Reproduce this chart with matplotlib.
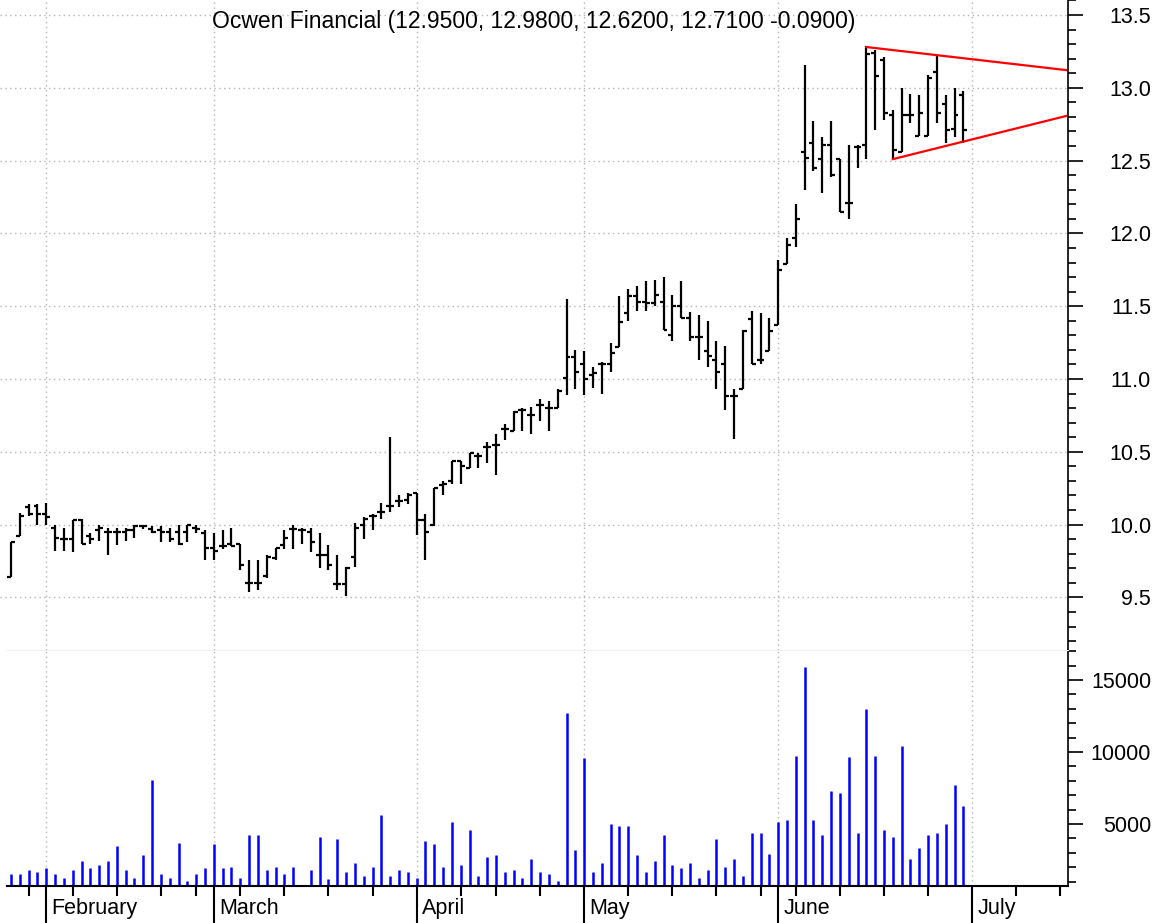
import matplotlib
matplotlib.use('Agg')
import matplotlib.pyplot as plt
import matplotlib.transforms as mtransforms
import numpy as np

plt.rcParams['font.family'] = ['Liberation Sans', 'DejaVu Sans']

title = 'Ocwen Financial (12.9500, 12.9800, 12.6200, 12.7100 -0.0900)'

# daily bars, late Jan to end of June
opens = [9.64, 9.92, 10.12, 10.13, 10.07, 9.98, 9.90, 9.90, 10.03, 9.92,
         9.96, 9.95, 9.95, 9.95, 9.96, 9.99, 9.97, 9.96, 9.95, 9.95,
         9.95, 9.98, 9.94, 9.84, 9.85, 9.87, 9.87, 9.60, 9.60, 9.65,
         9.77, 9.86, 9.97, 9.96, 9.95, 9.79, 9.79, 9.59, 9.59, 9.78,
         10.00, 10.06, 10.09, 10.13, 10.16, 10.17, 10.22, 10.03, 10.00, 10.27,
         10.30, 10.44, 10.39, 10.47, 10.53, 10.55, 10.66, 10.64, 10.79, 10.75,
         10.82, 10.80, 10.80, 11.01, 11.15, 11.10, 11.03, 11.10, 11.10, 11.22,
         11.45, 11.57, 11.53, 11.52, 11.53, 11.30, 11.50, 11.42, 11.29, 11.19,
         11.13, 11.10, 10.88, 10.93, 11.41, 11.13, 11.19, 11.37, 11.79, 11.97,
         12.56, 12.62, 12.51, 12.61, 12.51, 12.21, 12.59, 12.61, 13.24, 13.19,
         12.81, 12.56, 12.81, 12.67, 12.67, 13.11, 12.89, 12.72, 12.95]
highs = [9.88, 10.08, 10.14, 10.14, 10.15, 10.00, 9.98, 10.03, 10.04, 9.94,
         10.00, 9.98, 9.98, 9.98, 10.00, 10.00, 9.99, 9.99, 9.98, 10.00,
         10.00, 10.00, 9.96, 9.94, 9.96, 9.98, 9.87, 9.76, 9.76, 9.79,
         9.84, 9.96, 10.00, 9.98, 9.98, 9.94, 9.86, 9.79, 9.71, 10.01,
         10.05, 10.07, 10.15, 10.60, 10.20, 10.22, 10.22, 10.07, 10.25, 10.30,
         10.44, 10.44, 10.49, 10.49, 10.57, 10.62, 10.69, 10.78, 10.80, 10.81,
         10.86, 10.85, 10.93, 11.55, 11.20, 11.19, 11.08, 11.12, 11.25, 11.57,
         11.62, 11.64, 11.67, 11.68, 11.70, 11.58, 11.67, 11.46, 11.44, 11.40,
         11.26, 11.23, 10.93, 11.34, 11.47, 11.45, 11.42, 11.82, 11.97, 12.20,
         13.16, 12.77, 12.66, 12.77, 12.51, 12.61, 12.61, 13.29, 13.26, 13.21,
         12.85, 13.00, 12.96, 12.95, 13.09, 13.22, 12.95, 13.00, 12.98]
lows = [9.64, 9.92, 10.06, 10.00, 10.00, 9.82, 9.82, 9.81, 9.87, 9.87,
        9.89, 9.79, 9.86, 9.89, 9.91, 9.97, 9.94, 9.88, 9.88, 9.86,
        9.88, 9.94, 9.76, 9.76, 9.83, 9.85, 9.69, 9.54, 9.55, 9.63,
        9.76, 9.83, 9.83, 9.87, 9.81, 9.70, 9.69, 9.55, 9.51, 9.71,
        9.90, 9.96, 10.04, 10.09, 10.12, 10.14, 9.93, 9.76, 9.99, 10.20,
        10.28, 10.28, 10.39, 10.39, 10.42, 10.34, 10.58, 10.64, 10.64, 10.62,
        10.71, 10.64, 10.80, 10.89, 10.93, 10.89, 10.94, 10.90, 11.05, 11.22,
        11.40, 11.47, 11.47, 11.50, 11.34, 11.26, 11.42, 11.26, 11.13, 11.08,
        10.93, 10.79, 10.59, 10.93, 11.10, 11.10, 11.19, 11.37, 11.79, 11.91,
        12.30, 12.43, 12.28, 12.39, 12.15, 12.10, 12.45, 12.51, 12.71, 12.78,
        12.51, 12.56, 12.76, 12.67, 12.67, 12.76, 12.62, 12.66, 12.62]
closes = [9.88, 10.06, 10.07, 10.07, 10.05, 9.91, 9.90, 10.03, 9.87, 9.90,
          9.98, 9.95, 9.95, 9.96, 9.99, 9.99, 9.95, 9.95, 9.90, 9.87,
          10.00, 9.97, 9.84, 9.82, 9.85, 9.85, 9.72, 9.60, 9.60, 9.78,
          9.84, 9.91, 9.97, 9.96, 9.88, 9.79, 9.72, 9.59, 9.70, 9.98,
          10.04, 10.06, 10.09, 10.13, 10.16, 10.20, 10.03, 9.95, 10.25, 10.28,
          10.44, 10.40, 10.49, 10.47, 10.53, 10.55, 10.66, 10.77, 10.79, 10.75,
          10.82, 10.80, 10.92, 11.15, 11.05, 11.00, 11.04, 11.10, 11.18, 11.39,
          11.57, 11.53, 11.52, 11.58, 11.34, 11.50, 11.42, 11.29, 11.29, 11.16,
          11.05, 10.88, 10.88, 11.33, 11.10, 11.13, 11.33, 11.75, 11.92, 12.10,
          12.52, 12.45, 12.61, 12.40, 12.15, 12.21, 12.59, 13.23, 13.08, 12.83,
          12.57, 12.81, 12.81, 12.83, 13.07, 12.83, 12.71, 12.81, 12.71]
volumes = [1528, 1528, 1806, 1667, 1921, 1528, 1273, 1806, 2454, 1921,
           2176, 2454, 3449, 1806, 1273, 2824, 8079, 1528, 1273, 3704,
           1019, 1528, 1921, 3611, 1921, 2037, 1273, 4236, 4236, 1806,
           2037, 1528, 2037, 764, 1806, 4097, 1157, 3982, 1667, 2292,
           1412, 2037, 5648, 1412, 1806, 1667, 1273, 3843, 3588, 2037,
           5116, 2176, 4607, 1412, 2685, 2824, 1667, 1806, 1273, 2570,
           1667, 1528, 1019, 12709, 3195, 9607, 1667, 2292, 5000, 4861,
           4861, 2824, 1667, 2431, 4236, 2176, 1921, 2292, 1273, 1806,
           3982, 2037, 2570, 1412, 4352, 4352, 2940, 5116, 5255, 9746,
           15903, 5255, 4236, 7315, 7176, 9630, 4352, 12964, 9746, 4607,
           4097, 10394, 2570, 3333, 4236, 4352, 5000, 7686, 6273]

month_names = ['February', 'March', 'April', 'May', 'June', 'July']
month_starts = [4, 23, 46, 65, 87, 109]   # bar index of first day
week_ticks = [2, 7, 12, 17, 21, 26, 31, 36, 41, 51, 55, 60,
              70, 75, 80, 85, 89, 94, 99, 104, 114, 119]

# triangle drawn on the chart: (bar index, price)
upper_line = [(97, 13.28), (119.9, 13.12)]
lower_line = [(100, 12.51), (119.9, 12.81)]

x = np.arange(len(closes))
grid_kw = dict(color='#b4b4b4', linestyle=(0, (1, 2.5)), linewidth=1.0, zorder=0)

fig = plt.figure(figsize=(11.63, 9.23), dpi=100)
ax = fig.add_axes([0, 0.2958, 0.9183, 0.7042])
axv = fig.add_axes([0, 0.0401, 0.9183, 0.2557], sharex=ax)

# price bars
ax.vlines(x, lows, highs, color='black', lw=1.6)
ax.hlines(opens, x - 0.45, x, color='black', lw=1.6)
ax.hlines(closes, x, x + 0.45, color='black', lw=1.6)
ax.plot([p[0] for p in upper_line], [p[1] for p in upper_line], color='#ff0000', lw=1.6)
ax.plot([p[0] for p in lower_line], [p[1] for p in lower_line], color='#ff0000', lw=1.6)

ax.set_xlim(-1.25, 119.87)
ax.set_ylim(9.139, 13.603)
ax.yaxis.tick_right()
pticks = np.arange(9.5, 13.51, 0.5)
ax.set_yticks(pticks)
ax.set_yticklabels(['%.1f' % t for t in pticks])
ax.set_yticks(np.arange(9.2, 13.61, 0.1), minor=True)
ax.tick_params(axis='y', which='major', length=10.8, width=1.2, labelsize=15.5, pad=49)
ax.tick_params(axis='y', which='minor', length=6, width=1.2)
for lbl in ax.get_yticklabels():
    lbl.set_horizontalalignment('right')
ax.tick_params(axis='x', which='both', bottom=False, labelbottom=False)
for s in ['left', 'top', 'bottom']:
    ax.spines[s].set_visible(False)
ax.spines['right'].set_linewidth(1.2)
for t in pticks:
    ax.axhline(t, **grid_kw)
for m in month_starts:
    ax.axvline(m, **grid_kw)
ax.text(0.5, 0.985, title, transform=ax.transAxes, ha='center', va='top', fontsize=16.5)

# volume
vbottom = 694
axv.vlines(x, vbottom, volumes, color='#0000ff', lw=1.8)
axv.set_ylim(vbottom, 17083)
axv.yaxis.tick_right()
axv.set_yticks([5000, 10000, 15000])
axv.set_yticklabels(['5000', '10000', '15000'])
axv.set_yticks(np.arange(1000, 17001, 1000), minor=True)
axv.tick_params(axis='y', which='major', length=10.8, width=1.2, labelsize=15.5, pad=49)
axv.tick_params(axis='y', which='minor', length=6, width=1.2)
for lbl in axv.get_yticklabels():
    lbl.set_horizontalalignment('right')
axv.set_xticks(month_starts)
axv.set_xticklabels([])
axv.set_xticks(week_ticks, minor=True)
axv.tick_params(axis='x', which='major', length=28, width=1.5)
axv.tick_params(axis='x', which='minor', length=7.5, width=1.5)
axv.spines['left'].set_visible(False)
axv.spines['top'].set_color('#f0f0f0')
axv.spines['top'].set_bounds(-0.45, 119.87)
axv.spines['bottom'].set_linewidth(1.5)
axv.spines['bottom'].set_bounds(-0.45, 119.87)
axv.spines['right'].set_linewidth(1.2)
for m in month_starts:
    axv.axvline(m, **grid_kw)

trans = mtransforms.blended_transform_factory(axv.transData, axv.transAxes)
for name, m in zip(month_names, month_starts):
    axv.text(m + 0.6, -0.095, name, transform=trans, ha='left', va='center', fontsize=15.5)

fig.savefig('out.png', dpi=100)
